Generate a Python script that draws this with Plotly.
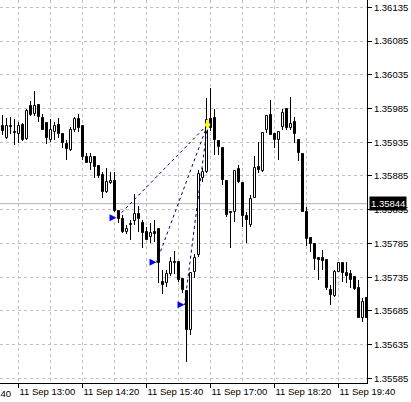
import pandas as pd
import plotly.graph_objects as go

# 5-minute bars, 11 Sep, 12:40 .. 20:15
times = pd.date_range("2013-09-11 12:40", periods=92, freq="5min")

opens = [1.35959, 1.35941, 1.35959, 1.35950, 1.35947, 1.35961, 1.35940, 1.35989, 1.35977, 1.35990,
         1.35971, 1.35964, 1.35938, 1.35950, 1.35961, 1.35947, 1.35932, 1.35923, 1.35953, 1.35969,
         1.35959, 1.35913, 1.35904, 1.35913, 1.35900, 1.35886, 1.35861, 1.35875, 1.35878, 1.35833,
         1.35821, 1.35802, 1.35812, 1.35818, 1.35829, 1.35815, 1.35802, 1.35795, 1.35802, 1.35806,
         1.35728, 1.35726, 1.35740, 1.35757, 1.35757, 1.35732, 1.35715, 1.35657, 1.35743, 1.35768,
         1.35882, 1.35891, 1.35969, 1.35971, 1.35937, 1.35926, 1.35878, 1.35832, 1.35832, 1.35895,
         1.35875, 1.35826, 1.35812, 1.35852, 1.35898, 1.35892, 1.35953, 1.35975, 1.35947, 1.35938,
         1.35958, 1.35984, 1.35956, 1.35965, 1.35938, 1.35918, 1.35832, 1.35793, 1.35784, 1.35763,
         1.35763, 1.35760, 1.35716, 1.35707, 1.35743, 1.35756, 1.35741, 1.35740, 1.35735, 1.35719,
         1.35675, 1.35704]
highs = [1.35975, 1.35971, 1.35972, 1.35969, 1.35965, 1.35964, 1.35984, 1.35996, 1.36011, 1.35990,
         1.35977, 1.35965, 1.35969, 1.35965, 1.35971, 1.35947, 1.35938, 1.35958, 1.35972, 1.35977,
         1.35959, 1.35919, 1.35919, 1.35913, 1.35900, 1.35891, 1.35897, 1.35891, 1.35891, 1.35833,
         1.35827, 1.35812, 1.35820, 1.35858, 1.35841, 1.35820, 1.35809, 1.35815, 1.35820, 1.35806,
         1.35746, 1.35746, 1.35765, 1.35774, 1.35757, 1.35732, 1.35715, 1.35743, 1.35769, 1.35894,
         1.35897, 1.36001, 1.36015, 1.35984, 1.35937, 1.35926, 1.35878, 1.35832, 1.35894, 1.35901,
         1.35876, 1.35832, 1.35857, 1.35915, 1.35935, 1.35950, 1.35975, 1.35998, 1.35947, 1.35950,
         1.35984, 1.35984, 1.36002, 1.35972, 1.35938, 1.35918, 1.35839, 1.35793, 1.35784, 1.35763,
         1.35775, 1.35760, 1.35723, 1.35746, 1.35756, 1.35757, 1.35757, 1.35746, 1.35735, 1.35731,
         1.35704, 1.35704]
lows = [1.35946, 1.35940, 1.35947, 1.35931, 1.35934, 1.35937, 1.35938, 1.35974, 1.35974, 1.35965,
        1.35953, 1.35932, 1.35935, 1.35938, 1.35941, 1.35926, 1.35909, 1.35922, 1.35950, 1.35950,
        1.35909, 1.35904, 1.35894, 1.35882, 1.35882, 1.35852, 1.35860, 1.35873, 1.35832, 1.35815,
        1.35801, 1.35799, 1.35790, 1.35812, 1.35802, 1.35778, 1.35790, 1.35786, 1.35787, 1.35726,
        1.35710, 1.35720, 1.35737, 1.35740, 1.35728, 1.35712, 1.35609, 1.35649, 1.35734, 1.35765,
        1.35876, 1.35889, 1.35952, 1.35916, 1.35916, 1.35872, 1.35824, 1.35778, 1.35817, 1.35875,
        1.35809, 1.35786, 1.35809, 1.35852, 1.35889, 1.35891, 1.35949, 1.35946, 1.35926, 1.35909,
        1.35953, 1.35953, 1.35953, 1.35934, 1.35907, 1.35832, 1.35781, 1.35772, 1.35746, 1.35731,
        1.35746, 1.35716, 1.35694, 1.35706, 1.35743, 1.35728, 1.35726, 1.35719, 1.35716, 1.35675,
        1.35669, 1.35675]
closes = [1.35952, 1.35959, 1.35958, 1.35949, 1.35959, 1.35938, 1.35981, 1.35975, 1.35989, 1.35972,
          1.35953, 1.35941, 1.35953, 1.35959, 1.35947, 1.35934, 1.35925, 1.35953, 1.35969, 1.35956,
          1.35913, 1.35904, 1.35913, 1.35898, 1.35885, 1.35861, 1.35876, 1.35878, 1.35833, 1.35821,
          1.35802, 1.35806, 1.35814, 1.35829, 1.35821, 1.35801, 1.35790, 1.35801, 1.35799, 1.35756,
          1.35723, 1.35740, 1.35757, 1.35756, 1.35731, 1.35716, 1.35657, 1.35741, 1.35763, 1.35888,
          1.35891, 1.35968, 1.35956, 1.35938, 1.35928, 1.35879, 1.35827, 1.35830, 1.35892, 1.35876,
          1.35826, 1.35820, 1.35851, 1.35897, 1.35894, 1.35949, 1.35974, 1.35946, 1.35938, 1.35950,
          1.35978, 1.35956, 1.35962, 1.35947, 1.35919, 1.35832, 1.35792, 1.35784, 1.35762, 1.35760,
          1.35759, 1.35719, 1.35709, 1.35743, 1.35756, 1.35741, 1.35737, 1.35731, 1.35717, 1.35675,
          1.35698, 1.35675]

# markers / objects drawn on chart
apex_time = ["2013-09-11 16:56:15"]
apex_price = [1.35961]
arrow_times = ["2013-09-11 15:02:30", "2013-09-11 15:52:30", "2013-09-11 16:27:30"]
arrow_prices = [1.35823, 1.35757, 1.35694]
current_price = 1.35844

FONT = "Liberation Sans, Arial, sans-serif"
MS_PER_PX = 75000  # 5 minutes per 4 px

bull = [c >= o for o, c in zip(opens, closes)]
body_base = [min(o, c) for o, c in zip(opens, closes)]
body_h = [max(abs(c - o), 0.000005) for o, c in zip(opens, closes)]

fig = go.Figure()
# wicks (drawn first, underneath bodies)
fig.add_trace(go.Bar(
    x=times, y=[h - l for h, l in zip(highs, lows)], base=lows,
    width=1 * MS_PER_PX, marker=dict(color="black", line=dict(width=0)),
    hoverinfo="skip", showlegend=False,
))
# bodies
fig.add_trace(go.Bar(
    x=times, y=body_h, base=body_base,
    width=2 * MS_PER_PX,
    marker=dict(color=["white" if b else "black" for b in bull],
                line=dict(color="black", width=1)),
    hoverinfo="skip", showlegend=False,
))

# dotted lines from apex to each arrow
for t, p in zip(arrow_times, arrow_prices):
    fig.add_trace(go.Scatter(
        x=[apex_time[0], t], y=[apex_price[0], p], mode="lines",
        line=dict(color="#000080", width=1, dash="3px,3px"),
        hoverinfo="skip", showlegend=False,
    ))

fig.add_trace(go.Scatter(
    x=arrow_times, y=arrow_prices, mode="markers",
    marker=dict(symbol="arrow-right", size=7, color="#0000ff",
                line=dict(width=0)),
    hoverinfo="skip", showlegend=False,
))
fig.add_trace(go.Scatter(
    x=apex_time, y=apex_price, mode="markers",
    marker=dict(symbol="diamond-tall", size=8, color="#ffff00",
                line=dict(width=0)),
    hoverinfo="skip", showlegend=False,
))

# current price line
fig.add_hline(y=current_price, line=dict(color="#b0b0b0", width=1), layer="below")

fig.add_annotation(
    x=1, xref="paper", xshift=2, xanchor="left",
    y=current_price, yref="y", yanchor="middle",
    text="1.35844", showarrow=False,
    font=dict(family=FONT, size=9.5, color="white"),
    bgcolor="black", borderpad=1,
)
# partially visible label at left edge
fig.add_annotation(
    x=0, xref="paper", xanchor="left", xshift=-46,
    y=0, yref="paper", yanchor="top", yshift=-3,
    text="11 Sep 11:40", showarrow=False,
    font=dict(family=FONT, size=9.5, color="black"),
)

grid = dict(gridcolor="#c0c0c0", griddash="3px,3px", gridwidth=1)

fig.update_layout(
    width=411, height=402,
    margin=dict(l=0, r=44, t=0, b=19),
    paper_bgcolor="white", plot_bgcolor="white",
    font=dict(family=FONT, size=9.5, color="black"),
    showlegend=False, barmode="overlay", bargap=0,
    xaxis=dict(
        type="date",
        range=["2013-09-11 12:36:52.5", "2013-09-11 20:15:37.5"],
        tick0="2013-09-11 13:00", dtick=80 * 60 * 1000,
        tickformat="%d %b %H:%M",
        ticks="outside", ticklen=4, tickcolor="black",
        ticklabelposition="outside right", tickangle=0,
        showline=True, linecolor="black", linewidth=1,
        showgrid=True, **grid,
        minor=dict(tick0="2013-09-11 13:00", dtick=40 * 60 * 1000,
                   showgrid=True, gridcolor="#c0c0c0", griddash="3px,3px"),
        zeroline=False, fixedrange=True,
        tickfont=dict(family=FONT, size=9.5, color="black"),
    ),
    yaxis=dict(
        side="right",
        range=[1.355782, 1.361458],
        tick0=1.35585, dtick=0.0005, tickformat=".5f",
        ticks="outside", ticklen=4, tickcolor="black",
        showline=True, linecolor="black", linewidth=1,
        showgrid=True, **grid,
        zeroline=False, fixedrange=True,
        tickfont=dict(family=FONT, size=9.5, color="black"),
    ),
)

fig.write_html("out.html", config={"displayModeBar": False},
               post_script="document.body.style.margin='0';")
